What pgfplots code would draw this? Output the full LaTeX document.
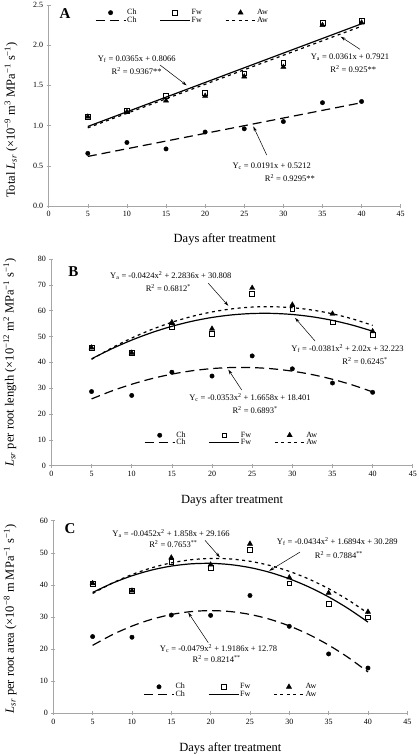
\documentclass[border=0pt]{standalone}
\usepackage{fontspec}
\setmainfont{Liberation Serif}
\usepackage{pgfplots}
\pgfplotsset{compat=1.18}
\usetikzlibrary{arrows.meta}

\pgfplotsset{
  panel/.style={
    scale only axis,
    axis x line=bottom, axis y line=left,
    axis line style={-, draw=gray!70, line width=0.6pt},
    every tick/.style={draw=gray!70, line width=0.6pt},
    tick align=center, major tick length=4pt,
    xmin=0, xmax=45, xtick={0,5,...,45},
    tick label style={font=\fontsize{8}{9}\selectfont},
    /pgf/number format/assume math mode=true,
    label style={font=\fontsize{12.5}{14}\selectfont},
    clip=false,
    legend columns=3,
    legend style={draw=none, fill=none, inner sep=0pt,
      font=\fontsize{8}{9}\selectfont,
      /tikz/every even column/.append style={column sep=22pt},
      row sep=-1.5pt, nodes={inner sep=1pt}},
    legend image code/.code={\draw[mark repeat=2,mark phase=2] plot coordinates {(0pt,0pt) (15pt,0pt) (30pt,0pt)};},
  },
  chm/.style={only marks, mark=*, mark size=2.2pt, black},
  fwm/.style={only marks, mark=square, mark size=2.4pt, black, mark options={fill=white, line width=0.6pt}},
  awm/.style={only marks, mark=triangle*, mark size=3pt, black},
  chl/.style={black, line width=1.2pt, dash pattern=on 9pt off 5pt, no marks},
  fwl/.style={black, line width=1.2pt, no marks},
  awl/.style={black, line width=1.2pt, dash pattern=on 3pt off 3.5pt, no marks},
}
\tikzset{arr/.style={-{Stealth[length=5pt,width=3pt]}, line width=0.5pt},
  ann/.style={font=\fontsize{8.5}{10}\selectfont, inner sep=0pt}}

\begin{document}
\begin{tikzpicture}
\useasboundingbox (0,0) rectangle (418pt,-756pt);

% ---------------- Panel A ----------------
\begin{axis}[panel,
  at={(48.7pt,-206pt)}, anchor=south west,
  width=352pt, height=201pt,
  ymin=0, ymax=2.5, ytick={0,0.5,...,2.5},
  yticklabel style={/pgf/number format/.cd, fixed, fixed zerofill, precision=1},
  xlabel={Days after treatment},
  ylabel={Total \textit{L}\textsubscript{\textit{sr}} (×10\textsuperscript{−9} m\textsuperscript{3} MPa\textsuperscript{−1} s\textsuperscript{−1})},
  xlabel style={at={(axis description cs:0.5,-0.164)}, anchor=center},
  ylabel style={at={(axis description cs:-0.107,0.428)}, anchor=center},
  legend style={at={(axis description cs:0.131,0.943)}, anchor=west},
]
\addplot[chm] coordinates {(5,0.655) (10,0.79) (15,0.71) (20,0.92) (25,0.96) (30,1.05) (35,1.285) (40,1.30)};
\addlegendentry{Ch}
\addplot[fwm] coordinates {(5,1.11) (10,1.18) (15,1.37) (20,1.41) (25,1.65) (30,1.78) (35,2.28) (40,2.30)};
\addlegendentry{Fw}
\addplot[awm] coordinates {(5,1.11) (10,1.17) (15,1.31) (20,1.37) (25,1.61) (30,1.73) (35,2.25) (40,2.28)};
\addlegendentry{Aw}
\addplot[chl] coordinates {(5,0.6167) (40,1.2852)};
\addlegendentry{Ch}
\addplot[fwl] coordinates {(5,0.9891) (40,2.2666)};
\addlegendentry{Fw}
\addplot[awl] coordinates {(5,0.9726) (40,2.2361)};
\addlegendentry{Aw}

\node[font=\fontsize{15}{15}\selectfont\bfseries] at (axis cs:2.08,2.388) {A};
\node[ann] at (axis cs:11.25,1.825) {Y\textsubscript{f} = 0.0365x + 0.8066};
\node[ann] at (axis cs:11.25,1.679) {R\textsuperscript{2} = 0.9367**};
\draw[arr] (axis cs:14.23,1.754) -- (axis cs:17.64,1.50);
\node[ann] at (axis cs:38.52,1.857) {Y\textsubscript{a} = 0.0361x + 0.7921};
\node[ann] at (axis cs:38.94,1.70) {R\textsuperscript{2} = 0.925**};
\draw[arr] (axis cs:39.8,1.949) -- (axis cs:37.33,2.106);
\node[ann] at (axis cs:28.51,0.501) {Y\textsubscript{c} = 0.0191x + 0.5212};
\node[ann] at (axis cs:30.84,0.352) {R\textsuperscript{2} = 0.9295**};
\draw[arr] (axis cs:27.87,0.634) -- (axis cs:26.16,0.99);
\end{axis}

% ---------------- Panel B ----------------
\begin{axis}[panel,
  at={(51.4pt,-465.7pt)}, anchor=south west,
  width=361.4pt, height=206.7pt,
  ymin=0, ymax=80, ytick={0,10,...,80},
  xlabel={Days after treatment},
  ylabel={\textit{L}\textsubscript{\textit{sr}} per root length (×10\textsuperscript{−12} m\textsuperscript{2} MPa\textsuperscript{−1} s\textsuperscript{−1})},
  xlabel style={at={(axis description cs:0.5,-0.166)}, anchor=center},
  ylabel style={at={(axis description cs:-0.115,0.5)}, anchor=center},
  legend style={at={(axis description cs:0.256,0.129)}, anchor=west},
]
\addplot[chm] coordinates {(5,28.7) (10,27.2) (15,36.2) (20,34.7) (25,42.5) (30,37.5) (35,32.0) (40,28.4)};
\addlegendentry{Ch}
\addplot[fwm] coordinates {(5,45.5) (10,43.6) (15,53.7) (20,51.0) (25,66.5) (30,60.8) (35,55.5) (40,50.6)};
\addlegendentry{Fw}
\addplot[awm] coordinates {(5,45.7) (10,43.7) (15,55.5) (20,53.0) (25,68.8) (30,62.3) (35,58.8) (40,52.0)};
\addlegendentry{Aw}
\addplot[chl, smooth] coordinates {(5,25.848) (7.5,28.909) (10,31.529) (12.5,33.708) (15,35.446) (17.5,36.742) (20,37.597) (22.5,38.011) (25,37.984) (27.5,37.515) (30,36.605) (32.5,35.254) (35,33.462) (37.5,31.228) (40,28.553)};
\addlegendentry{Ch}
\addplot[fwl, smooth] coordinates {(5,41.371) (7.5,45.230) (10,48.613) (12.5,51.520) (15,53.951) (17.5,55.905) (20,57.383) (22.5,58.385) (25,58.911) (27.5,58.960) (30,58.533) (32.5,57.630) (35,56.251) (37.5,54.395) (40,52.063)};
\addlegendentry{Fw}
\addplot[awl, smooth] coordinates {(5,41.166) (7.5,45.550) (10,49.404) (12.5,52.728) (15,55.522) (17.5,57.786) (20,59.520) (22.5,60.724) (25,61.398) (27.5,61.542) (30,61.156) (32.5,60.240) (35,58.794) (37.5,56.818) (40,54.312)};
\addlegendentry{Aw}

\node[font=\fontsize{15}{15}\selectfont\bfseries] at (axis cs:2.73,75.1) {B};
\node[ann] at (axis cs:14.87,73.5) {Y\textsubscript{a} = -0.0424x\textsuperscript{2} + 2.2836x + 30.808};
\node[ann] at (axis cs:14.56,68.65) {R\textsuperscript{2} = 0.6812\textsuperscript{*}};
\draw[arr] (axis cs:19.54,70.6) -- (axis cs:22.03,61.9);
\node[ann] at (axis cs:36.87,45.4) {Y\textsubscript{f} = -0.0381x\textsuperscript{2} + 2.02x + 32.223};
\node[ann] at (axis cs:39.05,40.5) {R\textsuperscript{2} = 0.6245\textsuperscript{*}};
\draw[arr] (axis cs:32.83,48.26) -- (axis cs:30.34,57.2);
\node[ann] at (axis cs:24.73,26.3) {Y\textsubscript{c} = -0.0353x\textsuperscript{2} + 1.6658x + 18.401};
\node[ann] at (axis cs:25.36,21.56) {R\textsuperscript{2} = 0.6893\textsuperscript{*}};
\draw[arr] (axis cs:23.7,29.3) -- (axis cs:22.03,37.2);
\end{axis}

% ---------------- Panel C ----------------
\begin{axis}[panel,
  at={(53.3pt,-713.3pt)}, anchor=south west,
  width=354pt, height=192.6pt,
  ymin=0, ymax=60, ytick={0,10,...,60},
  xlabel={Days after treatment},
  ylabel={\textit{L}\textsubscript{\textit{sr}} per root area (×10\textsuperscript{−8} m MPa\textsuperscript{−1} s\textsuperscript{−1})},
  xlabel style={at={(axis description cs:0.5,-0.18)}, anchor=center},
  ylabel style={at={(axis description cs:-0.122,0.49)}, anchor=center},
  legend style={at={(axis description cs:0.254,0.118)}, anchor=west},
]
\addplot[chm] coordinates {(5,23.9) (10,23.7) (15,30.6) (20,30.5) (25,36.7) (30,27.1) (35,18.5) (40,14.1)};
\addlegendentry{Ch}
\addplot[fwm] coordinates {(5,40.3) (10,38.1) (15,47.3) (20,45.4) (25,50.9) (30,40.5) (35,34.0) (40,29.9)};
\addlegendentry{Fw}
\addplot[awm] coordinates {(5,40.5) (10,38.2) (15,48.5) (20,46.3) (25,52.8) (30,42.3) (35,37.5) (40,31.6)};
\addlegendentry{Aw}
\addplot[chl, smooth] coordinates {(5,21.176) (7.5,24.475) (10,27.176) (12.5,29.278) (15,30.782) (17.5,31.686) (20,31.992) (22.5,31.699) (25,30.808) (27.5,29.317) (30,27.228) (32.5,24.540) (35,21.254) (37.5,17.368) (40,12.884)};
\addlegendentry{Ch}
\addplot[fwl, smooth] coordinates {(5,37.651) (7.5,40.518) (10,42.843) (12.5,44.625) (15,45.865) (17.5,46.562) (20,46.717) (22.5,46.329) (25,45.399) (27.5,43.926) (30,41.911) (32.5,39.353) (35,36.253) (37.5,32.610) (40,28.425)};
\addlegendentry{Fw}
\addplot[awl, smooth] coordinates {(5,37.326) (7.5,40.559) (10,43.226) (12.5,45.329) (15,46.866) (17.5,47.839) (20,48.246) (22.5,48.089) (25,47.366) (27.5,46.079) (30,44.226) (32.5,41.809) (35,38.826) (37.5,35.279) (40,31.166)};
\addlegendentry{Aw}

\node[font=\fontsize{15}{15}\selectfont\bfseries] at (axis cs:2.12,57.6) {C};
\node[ann] at (axis cs:14.96,56.1) {Y\textsubscript{a} = -0.0452x\textsuperscript{2} + 1.858x + 29.166};
\node[ann] at (axis cs:15.25,52.6) {R\textsuperscript{2} = 0.7653\textsuperscript{**}};
\draw[arr] (axis cs:19.28,53.9) -- (axis cs:21.18,48.6);
\node[ann] at (axis cs:36.1,53.4) {Y\textsubscript{f} = -0.0434x\textsuperscript{2} + 1.6894x + 30.289};
\node[ann] at (axis cs:36.3,49.3) {R\textsuperscript{2} = 0.7884\textsuperscript{**}};
\draw[arr] (axis cs:31.35,50.2) -- (axis cs:27.45,44.4);
\node[ann] at (axis cs:21.0,20.25) {Y\textsubscript{c} = -0.0479x\textsuperscript{2} + 1.9186x + 12.78};
\node[ann] at (axis cs:20.76,16.8) {R\textsuperscript{2} = 0.8214\textsuperscript{**}};
\draw[arr] (axis cs:19.7,22.0) -- (axis cs:17.15,31.4);
\end{axis}
\end{tikzpicture}
\end{document}
